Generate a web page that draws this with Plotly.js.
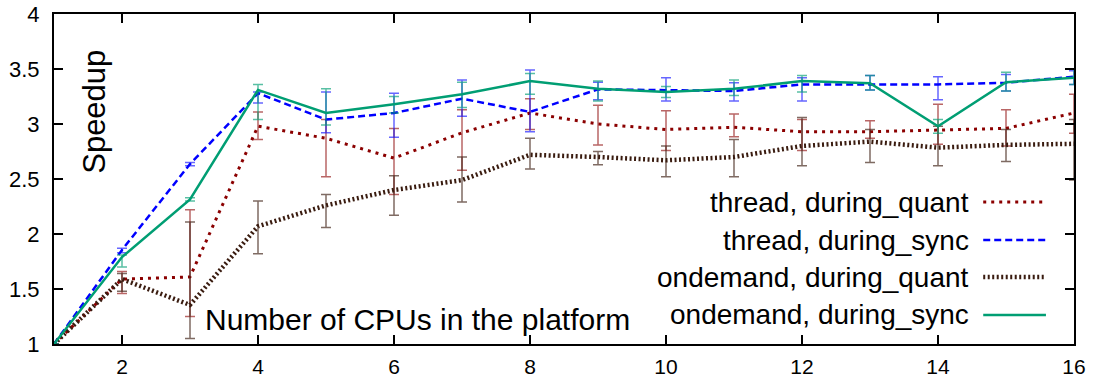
<!DOCTYPE html>
<html>
<head>
<meta charset="utf-8">
<script src="https://cdn.plot.ly/plotly-3.0.1.min.js"></script>
<style>html,body{margin:0;padding:0;background:#fff;}#chart{width:1097px;height:379px;}</style>
</head>
<body>
<div id="chart"></div>
<script>
// ---- data ----
const cpus = [1,2,3,4,5,6,7,8,9,10,11,12,13,14,15,16];
const seriesNames = ["thread, during_quant", "thread, during_sync", "ondemand, during_quant", "ondemand, during_sync"];

const threadQuant    = [1.0, 1.59, 1.61, 2.98, 2.87, 2.69, 2.92, 3.10, 3.00, 2.95, 2.97, 2.93, 2.93, 2.945, 2.96, 3.10];
const threadQuantLo  = [1.0, 1.46, 1.25, 2.86, 2.52, 2.36, 2.58, 2.95, 2.81, 2.76, 2.885, 2.76, 2.87, 2.815, 2.80, 2.915];
const threadQuantHi  = [1.0, 1.66, 2.22, 3.11, 3.04, 2.96, 3.13, 3.23, 3.17, 3.12, 3.09, 3.04, 3.03, 3.18, 3.13, 3.27];

const threadSync     = [1.0, 1.855, 2.636, 3.28, 3.04, 3.10, 3.23, 3.11, 3.315, 3.31, 3.30, 3.36, 3.36, 3.36, 3.375, 3.43];
const threadSyncLo   = [1.0, 1.83, 2.62, 3.19, 2.92, 2.88, 3.07, 2.93, 3.22, 3.21, 3.21, 3.21, 3.31, 3.22, 3.30, 3.36];
const threadSyncHi   = [1.0, 1.87, 2.65, 3.29, 3.29, 3.28, 3.40, 3.49, 3.38, 3.42, 3.375, 3.42, 3.44, 3.43, 3.45, 3.485];

const ondemandQuant   = [1.0, 1.59, 1.355, 2.07, 2.26, 2.40, 2.49, 2.72, 2.70, 2.67, 2.70, 2.80, 2.84, 2.785, 2.81, 2.82];
const ondemandQuantLo = [1.0, 1.48, 1.05, 1.82, 2.06, 2.17, 2.29, 2.59, 2.63, 2.52, 2.52, 2.62, 2.65, 2.62, 2.66, 2.49];
const ondemandQuantHi = [1.0, 1.64, 2.11, 2.30, 2.36, 2.53, 2.70, 2.87, 2.75, 2.80, 2.86, 3.06, 2.95, 2.98, 2.95, 3.04];

const ondemandSync   = [1.0, 1.79, 2.315, 3.31, 3.10, 3.18, 3.27, 3.39, 3.32, 3.29, 3.32, 3.39, 3.37, 2.98, 3.38, 3.42];
const ondemandSyncLo = [1.0, 1.70, 2.30, 3.04, 2.99, 3.10, 3.15, 3.27, 3.21, 3.24, 3.26, 3.29, 3.31, 2.915, 3.30, 3.36];
const ondemandSyncHi = [1.0, 1.81, 2.33, 3.36, 3.32, 3.25, 3.38, 3.46, 3.39, 3.34, 3.40, 3.44, 3.44, 3.04, 3.47, 3.50];

const xTickVals = [2,4,6,8,10,12,14,16];
const yTickVals = [1,1.5,2,2.5,3,3.5,4];
const xTitle = "Number of CPUs in the platform";
const yTitle = "Speedup";

// ---- styles ----
const styles = [
  {color:"#8b0000", err:"rgba(139,0,0,0.6)", dash:"3px,5px", width:3},
  {color:"#0000ff", err:"rgba(0,0,255,0.6)", dash:"7px,4px", width:2.5},
  {color:"#3a1c10", err:"rgba(58,28,16,0.65)", dash:"2px,2.5px", width:4.5},
  {color:"#009e73", err:"rgba(0,158,115,0.65)", dash:"solid", width:2.5}
];
const vals = [threadQuant, threadSync, ondemandQuant, ondemandSync];
const los = [threadQuantLo, threadSyncLo, ondemandQuantLo, ondemandSyncLo];
const his = [threadQuantHi, threadSyncHi, ondemandQuantHi, ondemandSyncHi];

const font = "Liberation Sans, Arial, sans-serif";
const traces = vals.map((v, i) => ({
  type: "scatter", mode: "lines", x: cpus, y: v, name: seriesNames[i],
  showlegend: false, cliponaxis: false,
  line: {color: styles[i].color, dash: styles[i].dash, width: styles[i].width},
  error_y: {
    type: "data", symmetric: false,
    array: his[i].map((h, k) => h - v[k]),
    arrayminus: los[i].map((l, k) => v[k] - l),
    color: styles[i].err, thickness: 1.5, width: 5
  }
}));

// legend drawn gnuplot-style: right-aligned text, sample on the right
const legY = [0.430, 0.315, 0.203, 0.088];
const annotations = seriesNames.map((n, i) => ({
  xref: "paper", yref: "paper", x: 0.899, y: legY[i], xanchor: "right", yanchor: "middle",
  text: n, showarrow: false, font: {family: font, size: 28, color: "#000"}
}));
const shapes = seriesNames.map((n, i) => ({
  type: "line", xref: "paper", yref: "paper", x0: 0.911, x1: 0.9725, y0: legY[i], y1: legY[i],
  line: {color: styles[i].color, dash: styles[i].dash, width: styles[i].width}
}));
annotations.push({
  xref: "paper", yref: "paper", x: 0.356, y: 0.073, xanchor: "center", yanchor: "middle",
  text: xTitle, showarrow: false, font: {family: font, size: 30, color: "#000"}
});
annotations.push({
  xref: "paper", yref: "paper", x: 0.039, y: 0.703, xanchor: "center", yanchor: "middle",
  text: yTitle, textangle: -90, showarrow: false, font: {family: font, size: 31, color: "#000"}
});

const layout = {
  width: 1097, height: 379,
  margin: {l: 54, r: 23, t: 14, b: 35},
  paper_bgcolor: "#fff", plot_bgcolor: "#fff",
  showlegend: false,
  xaxis: {
    range: [1, 16], tickvals: xTickVals, ticks: "inside", ticklen: 9, tickwidth: 1.5, tickcolor: "#000",
    showline: true, linecolor: "#000", linewidth: 2, mirror: "allticks", showgrid: false, zeroline: false,
    tickfont: {family: font, size: 21, color: "#000"}, ticklabelstandoff: 3
  },
  yaxis: {
    range: [1, 4], tickvals: yTickVals, ticks: "inside", ticklen: 9, tickwidth: 1.5, tickcolor: "#000",
    showline: true, linecolor: "#000", linewidth: 2, mirror: "allticks", showgrid: false, zeroline: false,
    tickfont: {family: font, size: 22, color: "#000"}, ticklabelstandoff: 8
  },
  annotations: annotations,
  shapes: shapes
};

Plotly.newPlot("chart", traces, layout, {staticPlot: true, displayModeBar: false});
</script>
</body>
</html>
